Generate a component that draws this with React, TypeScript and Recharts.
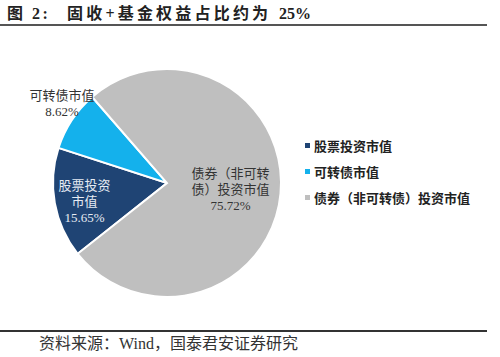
import React from "react";
import { PieChart, Pie, Cell, Legend } from "recharts";

const names = ["股票投资市值", "可转债市值", "债券（非可转债）投资市值"];
const shares = [15.65, 8.62, 75.72];
const labelLines = [["股票投资", "市值"], ["可转债市值"], ["债券（非可转", "债）投资市值"]];

const colors = ["#1f4474", "#14b1ec", "#bfbfbf"];
const labelColors = ["#e6ebf3", "#333333", "#333333"];
// label radius (x outerRadius) and angle nudge per slice
const labelPos = [
  { r: 0.74, shift: 2 },
  { r: 1.16, shift: -4 },
  { r: 0.56, shift: 0 },
];

const data = names.map((name, i) => ({ name, value: shares[i] }));

const FONT = "'Liberation Serif', 'Times New Roman', 'Noto Sans CJK SC', serif";
const RAD = Math.PI / 180;

const renderLabel = (props: any) => {
  const { cx, cy, midAngle, outerRadius, index, value } = props;
  const p = labelPos[index];
  const a = (midAngle + p.shift) * RAD;
  const r = outerRadius * p.r;
  const x = cx + r * Math.cos(a);
  const y = cy - r * Math.sin(a);
  const lines = [...labelLines[index], `${value.toFixed(2)}%`];
  const lh = 16;
  const y0 = y - ((lines.length - 1) * lh) / 2;
  return (
    <text
      x={x}
      y={y0}
      textAnchor="middle"
      dominantBaseline="central"
      fill={labelColors[index]}
      fontSize={13}
      fontFamily={FONT}
    >
      {lines.map((l, i) => (
        <tspan key={i} x={x} y={y0 + i * lh}>
          {l}
        </tspan>
      ))}
    </text>
  );
};

// keep legend in data order
const LegendContent = () => (
  <div>
    {names.map((n, i) => (
      <div key={n} style={{ display: "flex", alignItems: "center", height: 26 }}>
        <span style={{ width: 5, height: 5, background: colors[i], marginRight: 4, marginLeft: 2 }} />
        <span style={{ fontSize: 13, fontWeight: "bold", color: "#222", fontFamily: FONT }}>{n}</span>
      </div>
    ))}
  </div>
);

const App: React.FC = () => {
  return (
    <div style={{ position: "fixed", left: 0, top: 0, width: 500, height: 357, background: "#fff" }}>
      {/* title */}
      <div
        style={{
          position: "absolute", left: 7, top: 5, fontSize: 16, fontWeight: "bold", lineHeight: "18px",
          fontFamily: FONT, color: "#222", whiteSpace: "pre",
        }}
      >
        <span style={{ letterSpacing: 2.5 }}>图 2:</span>
        <span style={{ position: "absolute", left: 60, letterSpacing: 3.2 }}>固收+基金权益占比约为</span>
        <span style={{ position: "absolute", left: 272 }}>25%</span>
      </div>
      <div style={{ position: "absolute", left: 0, top: 24, width: 487, height: 2, background: "#555" }} />

      <div style={{ position: "absolute", left: 0, top: 0 }}>
        <PieChart width={500} height={330}>
          <Pie
            data={data}
            dataKey="value"
            nameKey="name"
            cx={162}
            cy={178}
            outerRadius={114}
            startAngle={218.4}
            endAngle={-141.6}
            stroke="#fff"
            strokeWidth={2}
            label={renderLabel}
            labelLine={false}
            isAnimationActive={false}
          >
            {data.map((d, i) => (
              <Cell key={d.name} fill={colors[i]} />
            ))}
          </Pie>
          <Legend
            layout="vertical"
            align="right"
            verticalAlign="top"
            content={<LegendContent />}
            wrapperStyle={{ left: 303, top: 132, width: 195 }}
          />
        </PieChart>
      </div>

      {/* source */}
      <div style={{ position: "absolute", left: 0, top: 330, width: 487, height: 2, background: "#333" }} />
      <div
        style={{
          position: "absolute", left: 39, top: 335, fontSize: 16, lineHeight: "17px",
          fontFamily: FONT, color: "#333", whiteSpace: "pre",
        }}
      >
        资料来源：Wind，国泰君安证券研究
      </div>
    </div>
  );
};

export default App;
